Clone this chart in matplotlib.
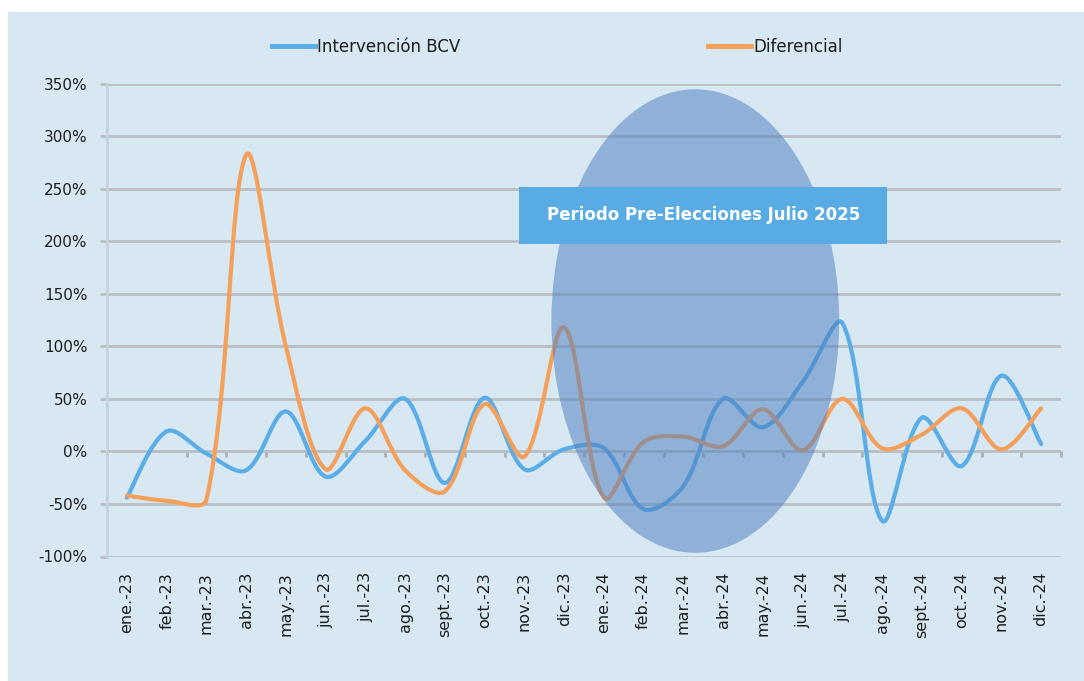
import matplotlib
matplotlib.use("Agg")
import matplotlib.pyplot as plt
import numpy as np
from matplotlib.path import Path
from matplotlib.patches import PathPatch, Ellipse, Rectangle
from matplotlib.lines import Line2D
from matplotlib.ticker import FuncFormatter

meses = ['ene.-23', 'feb.-23', 'mar.-23', 'abr.-23', 'may.-23', 'jun.-23',
         'jul.-23', 'ago.-23', 'sept.-23', 'oct.-23', 'nov.-23', 'dic.-23',
         'ene.-24', 'feb.-24', 'mar.-24', 'abr.-24', 'may.-24', 'jun.-24',
         'jul.-24', 'ago.-24', 'sept.-24', 'oct.-24', 'nov.-24', 'dic.-24']

# valores en %
intervencion = [-44, 19, -2, -18, 38, -24, 10, 50, -30, 51, -17, 2,
                3, -55, -33, 50, 23, 66, 122, -66, 32, -14, 72, 7]
diferencial = [-42, -47, -46, 282, 100, -17, 41, -18, -38, 45, -5, 118,
               -44, 9, 14, 5, 40, 1, 50, 3, 16, 41, 2, 41]

C_BLUE = '#5aade6'
C_ORANGE = '#f5a05a'
C_BG = '#d7e8f2'
C_GRID = '#b9bec3'
C_TXT = '#1e1e1e'


def smooth_path(ax, xs, ys):
    # curva suavizada tipo Excel (bezier, tangentes ponderadas por distancia en pantalla)
    pts = np.column_stack([xs, ys]).astype(float)
    disp = ax.transData.transform(pts)
    n = len(pts)
    d = np.hypot(*np.diff(disp, axis=0).T)
    before = [None] * n
    after = [None] * n
    for i in range(n):
        p_prev = pts[i - 1] if i > 0 else pts[i]
        p_next = pts[i + 1] if i < n - 1 else pts[i]
        t = p_next - p_prev
        d0 = d[i - 1] if i > 0 else d[i]
        d1 = d[i] if i < n - 1 else d[i - 1]
        s = d0 + d1
        before[i] = pts[i] - t * (1 / 3) * d0 / s
        after[i] = pts[i] + t * (1 / 3) * d1 / s
    verts = [pts[0]]
    codes = [Path.MOVETO]
    for i in range(n - 1):
        verts += [after[i], before[i + 1], pts[i + 1]]
        codes += [Path.CURVE4] * 3
    return Path(verts, codes)


fig = plt.figure(figsize=(10.84, 6.81), dpi=100, facecolor='white')
fig.patches.append(Rectangle((8 / 1084, 0), 1 - 8 / 1084, 1 - 12 / 681,
                             transform=fig.transFigure, color=C_BG, zorder=-1))

ax = fig.add_axes([107 / 1084, 124.5 / 681, 954 / 1084, 473 / 681])
ax.patch.set_visible(False)
x = np.arange(len(meses))
ax.set_xlim(-0.5, len(meses) - 0.5)
ax.set_ylim(-100, 350)
ax.set_yticks(np.arange(-100, 351, 50))
ax.yaxis.set_major_formatter(FuncFormatter(lambda v, p: f"{v:.0f}%"))
ax.grid(axis='y', color=C_GRID, linewidth=2)
ax.set_axisbelow(True)
ax.tick_params(axis='y', length=5, width=2, color=C_GRID, pad=9,
               labelsize=11, labelcolor=C_TXT)
ax.set_xticks(x)
ax.set_xticklabels(meses, rotation=90, va='top', ha='center')
ax.tick_params(axis='x', length=0, pad=11, labelsize=11.5, labelcolor=C_TXT)
for s in ['top', 'right', 'bottom']:
    ax.spines[s].set_visible(False)
ax.spines['left'].set_color('#c5d3de')
ax.spines['left'].set_linewidth(2)

# marcas del eje horizontal sobre el 0%
sec = ax.secondary_xaxis(100 / 450)
sec.set_xticks(np.arange(-0.5, len(meses), 1.0))
sec.set_xticklabels([])
sec.tick_params(length=4, width=2, color='#a9b0b6')
sec.spines['bottom'].set_visible(False)

ax.add_patch(PathPatch(smooth_path(ax, x, intervencion), fill=False,
                       edgecolor=C_BLUE, linewidth=3, zorder=2,
                       capstyle='round', joinstyle='round'))
ax.add_patch(PathPatch(smooth_path(ax, x, diferencial), fill=False,
                       edgecolor=C_ORANGE, linewidth=3, zorder=2,
                       capstyle='round', joinstyle='round'))

# periodo pre-elecciones
ax.add_patch(Ellipse((14.3, 124), 7.24, 441, facecolor='#4f7fbf',
                     alpha=0.52, edgecolor='none', zorder=3))
ax.add_patch(Rectangle((9.87, 197), 9.26, 55, facecolor='#58abe3',
                       edgecolor='none', zorder=4))
ax.text(14.5, 224.5, 'Periodo Pre-Elecciones Julio 2025', color='white',
        fontsize=12, fontweight='bold', ha='center', va='center', zorder=5)

handles = [Line2D([], [], color=C_BLUE, linewidth=3.5),
           Line2D([], [], color=C_ORANGE, linewidth=3.5)]
fig.legend(handles, ['Intervención BCV', 'Diferencial'], loc='center',
           bbox_to_anchor=(557 / 1084, 1 - 46.7 / 681), ncol=2, frameon=False,
           fontsize=12, handlelength=2.6, handletextpad=0.1, columnspacing=14.9,
           labelcolor=C_TXT)

fig.savefig('out.png', dpi=100, facecolor='white')
